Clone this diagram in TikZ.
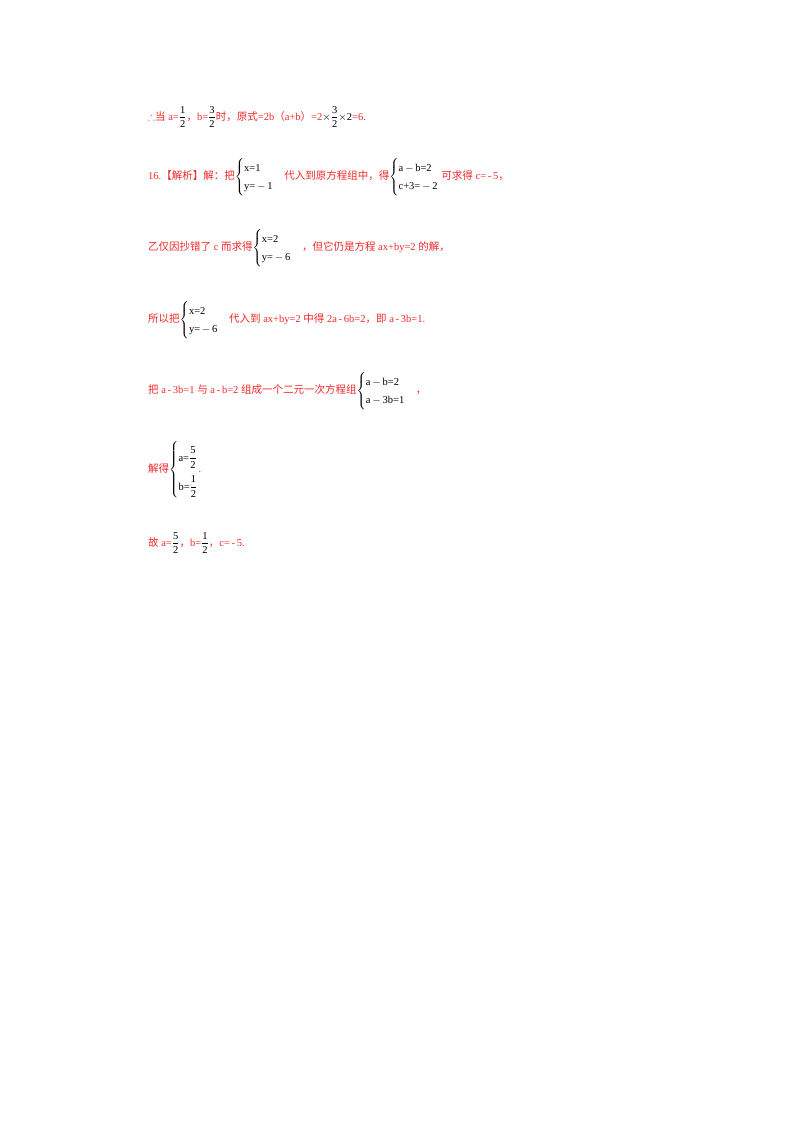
\documentclass[tikz,border=0pt]{standalone}
\usepackage{amsmath,amssymb}
\usepackage{fontspec}
\setmainfont{Liberation Serif}
\newfontfamily\cjk{Noto Sans CJK SC}
\definecolor{ansred}{RGB}{240,40,40}
\newcommand{\zh}[1]{{\cjk #1}}
\newcommand{\sys}[2]{\textcolor{black}{$\left\{\renewcommand{\arraystretch}{1.5}\begin{array}{@{}l@{}}\text{#1}\\ \text{#2}\end{array}\right.$}}
\newcommand{\fr}[2]{\textcolor{black}{$\dfrac{\text{#1}}{\text{#2}}$}}
\tikzset{line/.style={anchor=west, inner sep=0pt, text=ansred, font=\fontsize{10.5}{12}\selectfont}}

\begin{document}
\begin{tikzpicture}[x=1pt,y=-1pt]
\useasboundingbox (0,0) rectangle (800,1132);

% first line: value of the original expression
\node[line] (l1) at (148,117) {$\therefore$\zh{当} a=\fr{1}{2}\zh{，}b=\fr{3}{2}\zh{时，原式}=2b\zh{（}a+b\zh{）}=2\textcolor{black}{$\times$}\fr{3}{2}\textcolor{black}{$\times$2}=6.};

% problem 16
\node[line] (l2) at (148,177) {16.\zh{【解析】解：把}\sys{x=1}{y=\,$-$\,1}\quad\zh{代入到原方程组中，得}\sys{a\,$-$\,b=2}{c+3=\,$-$\,2}\ \zh{可求得} c=\,-\,5\zh{，}};
\node[line] (l3) at (148,248) {\zh{乙仅因抄错了} c \zh{而求得}\sys{x=2}{y=\,$-$\,6}\quad\zh{，但它仍是方程} ax+by=2 \zh{的解，}};
\node[line] (l4) at (148,320) {\zh{所以把}\sys{x=2}{y=\,$-$\,6}\quad\zh{代入到} ax+by=2 \zh{中得} 2a\,-\,6b=2\zh{，即} a\,-\,3b=1.};
\node[line] (l5) at (148,391) {\zh{把} a\,-\,3b=1 \zh{与} a\,-\,b=2 \zh{组成一个二元一次方程组}\sys{a\,$-$\,b=2}{a\,$-$\,3b=1}\quad\zh{，}};

% solution
\node[line] (l6) at (148,470) {\zh{解得}\textcolor{black}{$\left\{\renewcommand{\arraystretch}{2.4}\begin{array}{@{}l@{}}\text{a=}\dfrac{\text{5}}{\text{2}}\\ \text{b=}\dfrac{\text{1}}{\text{2}}\end{array}\right.$}.};
\node[line] (l7) at (148,543) {\zh{故} a=\fr{5}{2}\zh{，}b=\fr{1}{2}\zh{，}c=\,-\,5.};
\end{tikzpicture}
\end{document}
